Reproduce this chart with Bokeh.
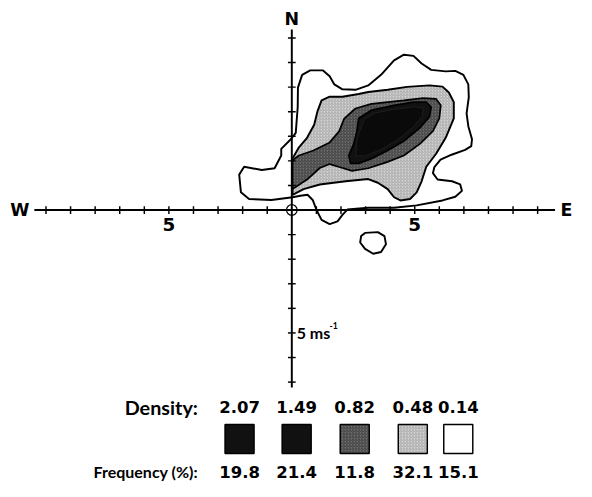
from bokeh.plotting import figure
from bokeh.models import Range1d
from bokeh.embed import file_html
from bokeh.resources import INLINE
from bokeh.core.properties import value

# ---------------- data (m/s wind components) ----------------
density_labels = ["2.07", "1.49", "0.82", "0.48", "0.14"]
frequency_labels = ["19.8", "21.4", "11.8", "32.1", "15.1"]

x_ticks = [-10, -9, -8, -7, -6, -5, -4, -3, -2, -1, 1, 2, 3, 4, 5, 6, 7, 8, 9, 10]
y_ticks = [-7, -6, -5, -4, -3, -2, -1, 1, 2, 3, 4, 5, 6, 7]
x_tick_labels = {-5: "5", 5: "5"}

# outer contour, density 0.14
c014_x = [0.25, 0.42, 0.75, 1.27, 1.54, 1.73, 2.06, 2.59, 3.11, 3.63, 4.16, 4.56, 4.95, 5.28, 5.67,
          6.26, 6.65, 6.98, 7.18, 7.20, 7.11, 7.18, 7.33, 7.30, 7.05, 6.50, 6.05, 5.80, 5.74, 5.93,
          6.52, 6.85, 6.92, 6.65, 6.13, 5.08, 4.16, 3.11, 2.26, 2.06, 1.86, 1.54, 1.21, 1.01, 0.85,
          0.64, 0.35, 0.03, -0.83, -1.74, -2.07, -2.14, -1.94, -1.22, -0.70, -0.43, -0.43, -0.04,
          0.16, 0.24]
c014_y = [4.98, 5.50, 5.68, 5.68, 5.44, 5.11, 4.91, 4.89, 5.07, 5.50, 6.09, 6.32, 6.27, 5.96, 5.70,
          5.64, 5.66, 5.50, 5.11, 4.59, 3.93, 3.41, 2.88, 2.60, 2.45, 2.25, 2.05, 1.75, 1.50, 1.24,
          1.17, 1.04, 0.78, 0.54, 0.39, 0.19, 0.09, 0.09, 0.02, -0.20, -0.46, -0.57, -0.40, -0.01, 0.41,
          0.62, 0.58, 0.52, 0.41, 0.45, 0.72, 1.44, 1.76, 1.63, 1.70, 2.22, 2.49, 2.88,
          3.14, 4.19]
# small isolated contour, density 0.14
c014b_x = [2.98, 3.50, 3.77, 3.83, 3.63, 3.31, 2.98, 2.78, 2.82]
c014b_y = [-0.93, -0.90, -1.06, -1.39, -1.71, -1.78, -1.58, -1.32, -1.06]

# density 0.48
c048_x = [0.03, 0.29, 0.62, 0.91, 1.04, 1.21, 1.54, 2.06, 2.72, 3.11, 3.90, 4.69, 5.60, 6.13, 6.39,
          6.59, 6.59, 6.26, 5.87, 5.47, 5.28, 5.08, 4.81, 4.42, 4.16, 3.90, 3.50, 3.11, 2.19, 1.14,
          0.48, 0.03]
c048_y = [2.10, 2.55, 2.94, 3.47, 4.00, 4.46, 4.61, 4.61, 4.72, 4.80, 4.89, 5.01, 5.07, 5.02, 4.78,
          4.39, 3.73, 2.94, 2.29, 1.76, 1.17, 0.72, 0.45, 0.39, 0.52, 0.85, 1.11, 1.26, 1.17, 1.04,
          0.85, 0.62]

# density 0.82
c082_x = [0.03, 0.29, 0.88, 1.54, 1.93, 2.13, 2.59, 3.24, 4.56, 5.34, 5.87, 6.06, 6.00, 5.74, 5.21,
          4.56, 3.90, 3.11, 2.45, 1.93, 1.54, 1.14, 0.62, 0.03]
c082_y = [2.03, 2.22, 2.42, 2.75, 3.21, 3.72, 4.13, 4.32, 4.46, 4.55, 4.52, 4.26, 3.73, 3.21, 2.69,
          2.22, 1.96, 1.70, 1.59, 1.75, 1.87, 1.71, 1.24, 0.85]

# density 1.49
c149_x = [2.72, 3.24, 4.16, 4.95, 5.47, 5.67, 5.60, 5.21, 4.56, 3.90, 3.24, 2.72, 2.39, 2.32, 2.52, 2.65]
c149_y = [3.73, 4.06, 4.26, 4.39, 4.39, 4.19, 3.80, 3.34, 2.81, 2.42, 2.09, 1.90, 1.90, 2.22, 2.69, 3.21]

# density 2.07
c207_x = [2.95, 3.40, 4.20, 5.00, 5.35, 5.30, 4.90, 4.30, 3.60, 3.00, 2.60, 2.65]
c207_y = [3.70, 3.95, 4.10, 4.20, 4.15, 3.80, 3.35, 2.85, 2.45, 2.20, 2.20, 2.90]

# ---------------- layout ----------------
W, H = 576, 481
S = H / 497           # overall shrink so the whole figure fits inside the page margins
PX = 25.4             # reference pixels per m/s
OX, OY = 301, 216.5   # reference position of the origin


def X(px):
    return (px - OX) / PX


def Y(py):
    return (OY - py) / PX


def fs(size):
    return f"{size * S:.1f}px"


LABEL_FONT = value("Lato")
NUM_FONT = value("DejaVu Sans")

p = figure(width=W, height=H, output_backend="svg", toolbar_location=None,
           x_range=Range1d(X(0), X(W / S)),
           y_range=Range1d(Y(H / S), Y(0)),
           min_border=0, x_axis_location=None, y_axis_location=None)
p.xgrid.visible = False
p.ygrid.visible = False
p.outline_line_color = None
p.background_fill_color = "white"


def txt(x, y, s, size, align="center", font=NUM_FONT, baseline="middle"):
    p.text(x=[x], y=[y], text=[s], text_font=font, text_font_size=fs(size),
           text_font_style="bold", text_align=align,
           text_baseline=baseline, text_color="black")


LW = 2.0 * S
light = dict(fill_color="#d4d4d4", hatch_pattern="/", hatch_color="#8c8c8c",
             hatch_scale=3, hatch_weight=0.6)
mid = dict(fill_color="#6e6e6e", hatch_pattern="/", hatch_color="#333333",
           hatch_scale=3, hatch_weight=0.8)

# contours
p.patch(c014_x, c014_y, fill_color="white", line_color="black", line_width=LW)
p.patch(c014b_x, c014b_y, fill_color="white", line_color="black", line_width=LW)
p.patch(c048_x, c048_y, line_color="black", line_width=LW, **light)
p.patch(c082_x, c082_y, line_color="black", line_width=LW * 0.9, **mid)
p.patch(c149_x, c149_y, fill_color="#111111", line_color="black", line_width=LW * 0.9)
p.patch(c207_x, c207_y, fill_color="#0a0a0a", line_color="#222222", line_width=0.8)

# axes drawn through the origin
x_lo, x_hi = X(35), X(573)
y_lo, y_hi = Y(400), Y(30)
p.segment(x0=[x_lo, 0], y0=[0, y_lo], x1=[x_hi, 0], y1=[0, y_hi], line_color="black", line_width=2 * S)
tk = 4 / PX
p.segment(x0=x_ticks, y0=[-tk] * len(x_ticks), x1=x_ticks, y1=[tk] * len(x_ticks),
          line_color="black", line_width=1.5 * S)
p.segment(x0=[-tk] * len(y_ticks), y0=y_ticks, x1=[tk] * len(y_ticks), y1=y_ticks,
          line_color="black", line_width=1.5 * S)
p.scatter(x=[0], y=[0], marker="circle", size=11 * S, fill_alpha=0, line_color="black",
          line_width=1.2)

# axis labels
txt(0, Y(19), "N", 18)
txt(X(20), 0, "W", 18)
txt(X(591), 0, "E", 18, align="right")
for v, s in x_tick_labels.items():
    txt(v, Y(231), s, 19)
txt(X(306), -5, "5 ms", 16.5, align="left", font=LABEL_FONT)
txt(X(340), Y(336), "-1", 9, align="left", font=LABEL_FONT)

# legend
cols = [247, 306, 366, 426, 473]
txt(X(204), Y(420), "Density:", 20.5, align="right", font=LABEL_FONT)
txt(X(204), Y(487), "Frequency (%):", 16.5, align="right", font=LABEL_FONT)
box = 30 / PX
styles = [dict(fill_color="#111111"), dict(fill_color="#111111"), mid, light, dict(fill_color="white")]
for cx, d, f, st in zip(cols, density_labels, frequency_labels, styles):
    txt(X(cx), Y(420), d, 17)
    txt(X(cx), Y(487), f, 17)
    p.rect(x=[X(cx)], y=[Y(453)], width=box, height=box, line_color="black",
           line_width=1.5 * S, **st)

open("out.html", "w").write(file_html(p, INLINE))
